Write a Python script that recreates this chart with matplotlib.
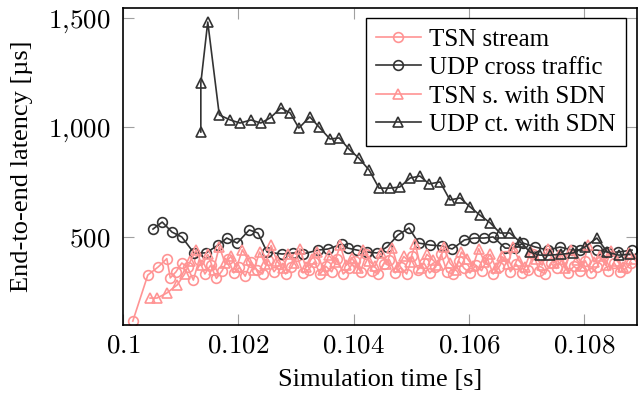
import matplotlib
matplotlib.use("Agg")
import matplotlib.pyplot as plt

plt.rcParams['font.family'] = ['Liberation Serif', 'DejaVu Serif']
plt.rcParams['mathtext.fontset'] = 'cm'

# TSN stream (no SDN)
t_tsn = [0.10017, 0.10043, 0.10061, 0.10076, 0.10082, 0.10092, 0.10102, 0.10112, 0.10122, 0.10132,
         0.10142, 0.10152, 0.10162, 0.10172, 0.10182, 0.10192, 0.10202, 0.10212, 0.10222, 0.10232,
         0.10242, 0.10252, 0.10262, 0.10272, 0.10282, 0.10292, 0.10302, 0.10312, 0.10322, 0.10332,
         0.10342, 0.10352, 0.10362, 0.10372, 0.10382, 0.10392, 0.10402, 0.10412, 0.10422, 0.10432,
         0.10442, 0.10452, 0.10462, 0.10472, 0.10482, 0.10492, 0.10502, 0.10512, 0.10522, 0.10532,
         0.10542, 0.10552, 0.10562, 0.10572, 0.10582, 0.10592, 0.10602, 0.10612, 0.10622, 0.10632,
         0.10642, 0.10652, 0.10662, 0.10672, 0.10682, 0.10692, 0.10702, 0.10712, 0.10722, 0.10732,
         0.10742, 0.10752, 0.10762, 0.10772, 0.10782, 0.10792, 0.10802, 0.10812, 0.10822, 0.10832,
         0.10842, 0.10852, 0.10862, 0.10872, 0.10882]
lat_tsn = [115, 325, 362, 400, 312, 340, 380, 360, 302, 395,
           330, 370, 310, 345, 400, 335, 360, 320, 385, 350,
           330, 395, 340, 375, 330, 360, 410, 335, 350, 385,
           330, 365, 340, 400, 330, 355, 390, 340, 420, 345,
           330, 375, 395, 335, 360, 330, 410, 350, 380, 335,
           360, 420, 340, 330, 390, 355, 335, 370, 345, 400,
           330, 360, 410, 340, 375, 335, 350, 420, 345, 330,
           380, 355, 400, 335, 365, 345, 390, 335, 360, 420,
           345, 380, 340, 355, 380]

# UDP cross traffic (no SDN)
t_udp = [0.10052, 0.10068, 0.10085, 0.10102, 0.10123, 0.10144, 0.10165, 0.10180, 0.10198, 0.10219,
         0.10234, 0.10250, 0.10276, 0.10295, 0.10312, 0.10338, 0.10356, 0.10380, 0.10390, 0.10406,
         0.10423, 0.10441, 0.10458, 0.10477, 0.10496, 0.10513, 0.10533, 0.10553, 0.10571, 0.10592,
         0.10609, 0.10626, 0.10642, 0.10663, 0.10680, 0.10694, 0.10715, 0.10737, 0.10758, 0.10779,
         0.10793, 0.10822, 0.10840, 0.10859, 0.10883]
lat_udp = [535, 567, 521, 499, 426, 426, 462, 494, 471, 531,
           517, 430, 421, 426, 421, 439, 444, 467, 448, 439,
           430, 426, 453, 508, 540, 471, 462, 458, 444, 485,
           494, 494, 499, 448, 448, 471, 453, 439, 453, 439,
           439, 439, 430, 430, 439]

# TSN stream with SDN
t_tsn_sdn = [0.10047, 0.10059, 0.10076, 0.10094, 0.10107, 0.10117, 0.10127, 0.10137, 0.10147, 0.10157,
             0.10167, 0.10177, 0.10187, 0.10197, 0.10207, 0.10217, 0.10227, 0.10237, 0.10247, 0.10257,
             0.10267, 0.10277, 0.10287, 0.10297, 0.10307, 0.10317, 0.10327, 0.10337, 0.10347, 0.10357,
             0.10367, 0.10377, 0.10387, 0.10397, 0.10407, 0.10417, 0.10427, 0.10437, 0.10447, 0.10457,
             0.10467, 0.10477, 0.10487, 0.10497, 0.10507, 0.10517, 0.10527, 0.10537, 0.10547, 0.10557,
             0.10567, 0.10577, 0.10587, 0.10597, 0.10607, 0.10617, 0.10627, 0.10637, 0.10647, 0.10657,
             0.10667, 0.10677, 0.10687, 0.10697, 0.10707, 0.10717, 0.10727, 0.10737, 0.10747, 0.10757,
             0.10767, 0.10777, 0.10787, 0.10797, 0.10807, 0.10817, 0.10827, 0.10837, 0.10847, 0.10857,
             0.10867, 0.10877, 0.10887]
lat_tsn_sdn = [220, 220, 243, 280, 330, 390, 440, 370, 420, 350,
               455, 380, 410, 360, 440, 395, 350, 430, 375, 460,
               390, 355, 420, 380, 445, 360, 400, 430, 350, 415,
               385, 460, 370, 405, 355, 440, 390, 365, 425, 375,
               450, 360, 410, 385, 465, 355, 420, 395, 370, 455,
               380, 350, 430, 400, 365, 445, 385, 420, 355, 410,
               375, 455, 390, 360, 430, 400, 370, 445, 380, 415,
               355, 440, 395, 365, 460, 385, 410, 370, 435, 390,
               360, 425, 400]

# UDP cross traffic with SDN
t_udp_sdn = [0.10135, 0.10135, 0.10147, 0.10167, 0.10186, 0.10203, 0.10222, 0.10239, 0.10255, 0.10274,
             0.10290, 0.10305, 0.10324, 0.10340, 0.10359, 0.10375, 0.10392, 0.10409, 0.10427, 0.10444,
             0.10463, 0.10480, 0.10498, 0.10515, 0.10531, 0.10550, 0.10567, 0.10585, 0.10602, 0.10619,
             0.10637, 0.10654, 0.10671, 0.10689, 0.10706, 0.10723, 0.10741, 0.10760, 0.10781, 0.10801,
             0.10822, 0.10840, 0.10860, 0.10879]
lat_udp_sdn = [978, 1202, 1480, 1056, 1033, 1019, 1033, 1019, 1042, 1088,
               1065, 996, 1047, 1001, 946, 951, 900, 859, 804, 722,
               722, 727, 768, 777, 741, 750, 668, 677, 636, 599,
               563, 517, 517, 476, 430, 416, 416, 420, 426, 453,
               494, 430, 416, 420]

xticks = [0.1, 0.102, 0.104, 0.106, 0.108]
xtick_labels = [r'$0.1$', r'$0.102$', r'$0.104$', r'$0.106$', r'$0.108$']
yticks = [500, 1000, 1500]
ytick_labels = [r'$500$', r'$1{,}000$', r'$1{,}500$']

pink = '#ff9494'
dark = '#333333'

fig = plt.figure(figsize=(6.39, 4.01), dpi=100)
ax = fig.add_axes([0.1925, 0.1895, 0.8044, 0.7905])

ax.plot(t_tsn, lat_tsn, color=pink, marker='o', markersize=7, markerfacecolor='none',
        markeredgewidth=1.2, linewidth=1.2, label='TSN stream')
ax.plot(t_udp, lat_udp, color=dark, marker='o', markersize=7, markerfacecolor='none',
        markeredgewidth=1.2, linewidth=1.2, label='UDP cross traffic')
ax.plot(t_tsn_sdn, lat_tsn_sdn, color=pink, marker='^', markersize=7, markerfacecolor='none',
        markeredgewidth=1.2, linewidth=1.2, label='TSN s. with SDN')
ax.plot(t_udp_sdn, lat_udp_sdn, color=dark, marker='^', markersize=7, markerfacecolor='none',
        markeredgewidth=1.2, linewidth=1.2, label='UDP ct. with SDN')

ax.set_xlim(0.1, 0.108916)
ax.set_ylim(97, 1544)
ax.set_xticks(xticks)
ax.set_xticklabels(xtick_labels)
ax.set_yticks(yticks)
ax.set_yticklabels(ytick_labels)
ax.tick_params(direction='in', length=8, width=0.8, color='#a0a0a0', labelsize=19.5,
               top=True, right=True)
ax.tick_params(axis='y', pad=9)
ax.tick_params(axis='x', pad=6)
for s in ax.spines.values():
    s.set_linewidth(1.2)
    s.set_color('black')

ax.set_xlabel('Simulation time [s]', fontsize=19, labelpad=8)
ax.set_ylabel('End-to-end latency [µs]', fontsize=19, labelpad=11)

leg = ax.legend(loc='upper right', bbox_to_anchor=(0.9786, 0.9685), borderaxespad=0,
                fontsize=18, fancybox=False, edgecolor='black', framealpha=1,
                handlelength=1.8, labelspacing=0.24, borderpad=0.4, handletextpad=0.35)
leg.get_frame().set_linewidth(1.0)

fig.savefig('out.png', dpi=100)
